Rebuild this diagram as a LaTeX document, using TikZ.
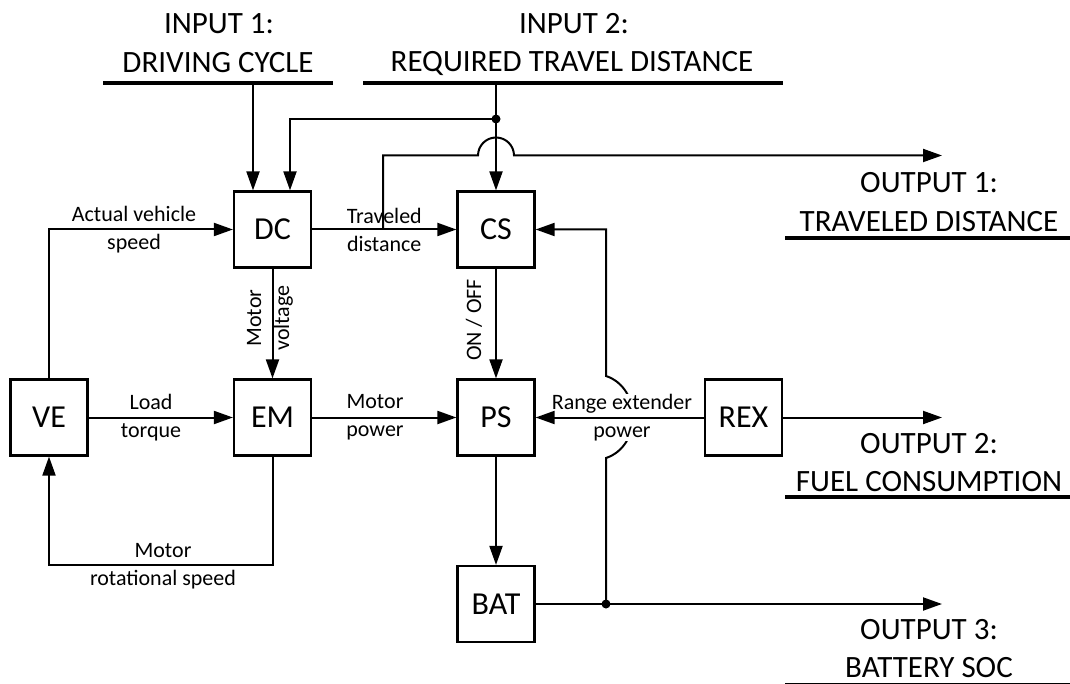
\documentclass[tikz,border=0pt]{standalone}
\usepackage{fontspec}
\setmainfont{Carlito}
\usetikzlibrary{arrows.meta}
\tikzset{
  blk/.style={draw, line width=2.2pt, minimum width=77pt, minimum height=76pt, inner sep=0pt, font=\fontsize{32}{36}\selectfont},
  big/.style={inner sep=0pt, font=\fontsize{31}{36}\selectfont},
  lbl/.style={inner sep=1pt, align=center, font=\fontsize{22}{28}\selectfont},
  wire/.style={line width=2pt},
  arr/.style={line width=2pt, -{Triangle[length=19pt,width=13pt]}},
  uline/.style={line width=3.8pt},
  dot/.style={circle, fill, inner sep=0pt, minimum size=9pt}
}
\begin{document}
\begin{tikzpicture}[x=1pt,y=-1pt]
\useasboundingbox (0,0) rectangle (1070,684);
% blocks
\node[blk] (VE)  at (49,417.5)   {VE};
\node[blk] (DC)  at (272.5,229.5) {DC};
\node[blk] (EM)  at (272.5,417.5) {EM};
\node[blk] (CS)  at (496,229.5)  {CS};
\node[blk] (PS)  at (496,417.5)  {PS};
\node[blk] (REX) at (743.5,417.5) {REX};
\node[blk] (BAT) at (496,604)    {BAT};
% inputs
\node[big] (in1a) at (219,24) {INPUT 1:};
\node[big] (in1b) at (218,63) {DRIVING CYCLE};
\coordinate (u1l) at (103,83); \coordinate (u1r) at (333,83);
\draw[uline] (u1l) -- (u1r);
\node[big] (in2a) at (574,24) {INPUT 2:};
\node[big] (in2b) at (572,63) {REQUIRED TRAVEL DISTANCE};
\coordinate (u2l) at (363,83); \coordinate (u2r) at (783,83);
\draw[uline] (u2l) -- (u2r);
% outputs
\node[big] (o1a) at (929,183) {OUTPUT 1:};
\node[big] (o1b) at (929,222) {TRAVELED DISTANCE};
\coordinate (v1l) at (785,238); \coordinate (v1r) at (1075,238);
\draw[uline] (v1l) -- (v1r);
\node[big] (o2a) at (929,444) {OUTPUT 2:};
\node[big] (o2b) at (929,482) {FUEL CONSUMPTION};
\coordinate (v2l) at (785,497); \coordinate (v2r) at (1075,497);
\draw[uline] (v2l) -- (v2r);
\node[big] (o3a) at (929,630) {OUTPUT 3:};
\node[big] (o3b) at (929,668) {BATTERY SOC};
\coordinate (v3l) at (785,685); \coordinate (v3r) at (1075,685);
\draw[uline] (v3l) -- (v3r);
% input connectors
\coordinate (i1) at (253,83);
\draw[arr] (i1) -- (i1 |- DC.north);
\coordinate (i2) at (496,83);
\draw[arr] (i2) -- (CS.north);
\node[dot] (j1) at (496,119) {};
\coordinate (d2) at (290,119);
\draw[arr] (j1.center) -- (d2) -- (d2 |- DC.north);
% traveled distance
\draw[arr] (DC.east) -- (CS.east -| CS.west) node[lbl, pos=0.5] (ltd) {Traveled\\distance};
\coordinate (t1) at (383,229.5);
\coordinate (t2) at (383,155.5);
\coordinate (hp1) at (478,155.5);
\coordinate (o1) at (942,155.5);
\draw[arr] (t1) -- (t2) -- (hp1) arc[start angle=180, end angle=0, radius=18pt] -- (o1);
% vehicle loop
\draw[arr] (VE.north) |- (DC.west);
\node[lbl] (lav) at (134,229.5) {Actual vehicle\\speed};
\draw[arr] (VE.east) -- (EM.west);
\node[lbl] (llt) at (151,417.5) {Load\\torque};
\coordinate (mr) at (0,565);
\draw[arr] (EM.south) -- (EM.south |- mr) -| (VE.south);
\node[lbl] (lmr) at (163,566) {Motor\\rotational speed};
\draw[arr] (DC.south) -- (EM.north);
\node[lbl, rotate=90] (lmv) at (270,318) {Motor\\voltage};
\draw[arr] (EM.east) -- (PS.west);
\node[lbl] (lmp) at (375,417.5) {Motor\\power};
\draw[arr] (CS.south) -- (PS.north);
\node[lbl, rotate=90, inner sep=0pt] (lon) at (474,320) {ON / OFF};
\draw[arr] (PS.south) -- (BAT.north);
% battery output and feedback with hop
\node[dot] (b1) at (606,604) {};
\coordinate (o3) at (942,604);
\draw[arr] (BAT.east) -- (o3);
\coordinate (h1) at (606,458);
\coordinate (h2) at (606,376);
\draw[arr] (b1.center) -- (h1) .. controls (642,446) and (642,388) .. (h2) -- (h2 |- CS.east) -- (CS.east);
\node[lbl, fill=white, inner sep=0pt] (lre) at (622,417.5) {Range extender\\power};
\draw[arr] (REX.west) -- (PS.east);
\coordinate (o2) at (942,417.5);
\draw[arr] (REX.east) -- (o2);
\end{tikzpicture}
\end{document}
